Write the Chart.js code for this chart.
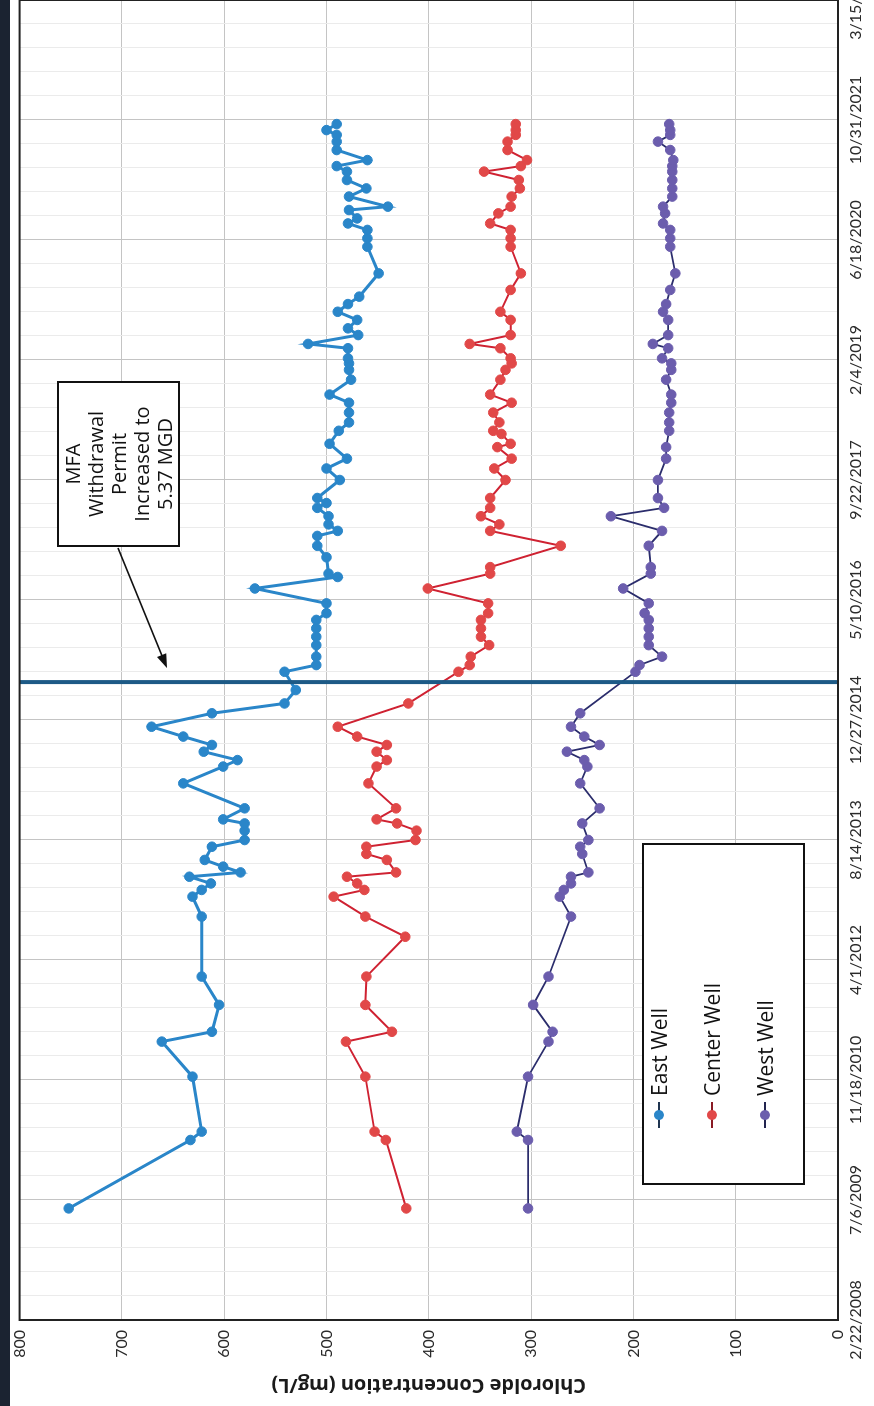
<!DOCTYPE html>
<html><head><meta charset="utf-8">
<script src="https://cdn.jsdelivr.net/npm/chart.js@4.4.1/dist/chart.umd.min.js"></script>
<style>
html,body{margin:0;padding:0;background:#fff;}
#page{position:relative;width:874px;height:1406px;overflow:hidden;background:#fff;}
#rot{position:absolute;left:0;top:0;width:1500px;height:874px;transform-origin:0 0;transform:translate(0,1406px) rotate(-90deg);background:#fff;}
#strip{position:absolute;left:0;top:0;width:1500px;height:10px;background:#1b2331;z-index:3;}
#c{position:absolute;left:0;top:0;}
#note{position:absolute;left:859px;top:57px;width:162px;height:117px;padding-top:2px;border:2px solid #111;background:#fff;font-family:"Open Sans",sans-serif;font-size:20px;line-height:23px;text-align:center;color:#111;}
#legend{position:absolute;left:221px;top:642px;width:338px;height:159px;border:2px solid #111;background:#fff;}
.row{position:absolute;left:55px;height:24px;font-family:"Open Sans",sans-serif;font-size:21px;line-height:24px;color:#111;white-space:nowrap;}
.row .ln{position:absolute;left:0;top:11px;width:26px;height:2px;}
.row .dot{position:absolute;left:8px;top:7px;width:10px;height:10px;border-radius:50%;}
.row .tx{position:absolute;left:32px;top:0;}
</style></head>
<body>
<div id="page">
  <div id="rot">
    <canvas id="c" width="1500" height="874"></canvas>
    <div id="strip"></div>
    <div id="note">MFA<br>Withdrawal<br>Permit<br>Increased to<br>5.37 MGD</div>
    <div id="legend"></div>
  </div>
</div>
<script>
// ---- data ----
const sampleDates = [
"2009-06-01","2010-03-13","2010-04-17","2010-12-02","2011-04-27","2011-06-07","2011-09-27","2012-01-23","2012-07-07","2012-09-29",
"2012-12-21","2013-01-18","2013-02-14","2013-03-14","2013-04-01","2013-04-25","2013-05-23","2013-06-17","2013-07-17","2013-08-14",
"2013-09-22","2013-10-22","2013-11-08","2013-12-24","2014-04-07","2014-06-16","2014-07-13","2014-08-17","2014-09-14","2014-10-19",
"2014-11-29","2015-01-24","2015-03-06","2015-05-01","2015-07-16","2015-08-13","2015-09-17","2015-11-04","2015-12-09","2016-01-13",
"2016-02-17","2016-03-16","2016-04-26","2016-06-27","2016-08-14","2016-08-28","2016-09-24","2016-11-04","2016-12-22","2017-02-01",
"2017-02-22","2017-03-21","2017-04-24","2017-05-29","2017-06-18","2017-07-09","2017-09-22","2017-11-09","2017-12-20","2018-02-06",
"2018-02-20","2018-04-02","2018-04-15","2018-05-20","2018-06-30","2018-08-10","2018-09-13","2018-11-14","2018-12-25","2019-01-21",
"2019-02-11","2019-03-25","2019-04-12","2019-05-19","2019-06-16","2019-07-21","2019-08-24","2019-09-25","2019-10-26","2019-11-23",
"2020-01-31","2020-05-21","2020-06-25","2020-07-30","2020-08-26","2020-09-16","2020-10-07","2020-10-21","2020-11-04","2020-12-16",
"2021-01-19","2021-02-23","2021-03-30","2021-04-22","2021-05-17","2021-06-28","2021-08-02","2021-08-30","2021-09-19","2021-10-14"];

const eastWell = [
752,633,622,631,661,612,605,622,null,622,
631,622,613,634,584,601,619,null,612,580,
580,580,601,580,640,601,587,620,612,640,
671,612,541,530,541,510,510,510,510,510,
510,500,500,570,489,498,null,500,509,509,
489,498,498,509,500,509,487,500,480,null,
497,null,488,478,478,478,497,476,478,478,
479,479,518,469,479,470,489,479,468,null,
449,460,460,460,479,470,null,478,440,478,
461,480,480,490,460,490,490,490,500,490];

const centerWell = [
422,442,453,462,481,436,462,461,423,462,
493,463,470,480,432,null,441,461,461,413,
412,431,451,432,459,451,441,451,441,470,
489,null,420,null,371,360,359,341,349,349,
349,342,342,401,null,340,340,null,271,null,
340,331,349,340,null,340,325,336,319,333,
320,329,337,331,337,319,340,330,325,319,
320,330,360,320,null,320,330,null,null,320,
310,320,320,320,340,null,332,null,320,319,
311,312,346,310,304,323,323,315,315,315];

const westWell = [
303,303,314,303,283,279,298,283,null,261,
272,268,261,261,244,null,null,250,252,244,
null,250,null,233,252,245,248,265,233,248,
261,252,null,null,198,194,172,185,185,185,
185,189,185,210,null,183,183,null,185,null,
172,null,222,170,null,176,176,null,168,168,
null,null,165,165,165,163,163,168,163,163,
172,166,181,166,null,166,171,168,null,164,
159,164,164,164,171,null,169,null,171,162,
162,162,162,162,161,164,176,164,164,165];

const seriesNames = ["East Well", "Center Well", "West Well"];
const permitDate = "2015-06-03";
const axisStartDate = "2008-02-22";
const axisEndDate = "2023-03-15";
const concentrationTicks = [0,100,200,300,400,500,600,700,800];

// ---- helpers ----
const toSerial = s => { const [y,m,d] = s.split("-").map(Number); return Date.UTC(y,m-1,d)/86400000 + 25569; };
const fmtSerial = v => { const dt = new Date((v-25569)*86400000); return (dt.getUTCMonth()+1)+"/"+dt.getUTCDate()+"/"+dt.getUTCFullYear(); };
const xs = sampleDates.map(toSerial);
const pts = vals => vals.map((v,i)=>({x:xs[i], y:v}));

const styles = [
  {line:"#2a86c9", fill:"#2a86c9", legendLine:"#1f3550", width:3},
  {line:"#cf2232", fill:"#e14848", legendLine:"#8a1b24", width:2},
  {line:"#2b2d6c", fill:"#6b5dad", legendLine:"#22244f", width:1.8}
];
const allSeries = [eastWell, centerWell, westWell];

const xMin = toSerial(axisStartDate), xMax = toSerial(axisEndDate);
const mfaX = toSerial(permitDate);

const overlay = {
  id:"overlay",
  beforeDatasetsDraw(chart){
    const {ctx, chartArea:a, scales:{x}} = chart;
    ctx.save();
    ctx.strokeStyle = "#ebebeb"; ctx.lineWidth = 1;
    for(let v = xMin; v <= xMax; v += 100){
      if ((v - xMin) % 500 === 0) continue;
      const px = Math.round(x.getPixelForValue(v)) + 0.5;
      ctx.beginPath(); ctx.moveTo(px, a.top); ctx.lineTo(px, a.bottom); ctx.stroke();
    }
    ctx.restore();
  },
  afterDatasetsDraw(chart){
    const {ctx, chartArea:a, scales:{x}} = chart;
    const mx = x.getPixelForValue(mfaX);
    ctx.save();
    ctx.strokeStyle = "#1d5a86"; ctx.lineWidth = 4;
    ctx.beginPath(); ctx.moveTo(mx, a.top); ctx.lineTo(mx, a.bottom); ctx.stroke();
    // arrow from note box to the permit line
    const sx = 858, sy = 118, ex = mx + 14, ey = 167;
    ctx.strokeStyle = "#111"; ctx.fillStyle = "#111"; ctx.lineWidth = 1.6;
    const ang = Math.atan2(ey - sy, ex - sx);
    ctx.beginPath(); ctx.moveTo(sx, sy); ctx.lineTo(ex - 10*Math.cos(ang), ey - 10*Math.sin(ang)); ctx.stroke();
    ctx.beginPath();
    ctx.moveTo(ex, ey);
    ctx.lineTo(ex - 14*Math.cos(ang) + 5*Math.sin(ang), ey - 14*Math.sin(ang) - 5*Math.cos(ang));
    ctx.lineTo(ex - 14*Math.cos(ang) - 5*Math.sin(ang), ey - 14*Math.sin(ang) + 5*Math.cos(ang));
    ctx.closePath(); ctx.fill();
    ctx.restore();
  },
  afterDraw(chart){
    const {ctx, chartArea:a} = chart;
    ctx.save();
    ctx.strokeStyle = "#222"; ctx.lineWidth = 2;
    ctx.strokeRect(a.left, a.top, a.right - a.left, a.bottom - a.top);
    ctx.restore();
  }
};

new Chart(document.getElementById("c"), {
  type: "line",
  data: {
    datasets: allSeries.map((vals, i) => ({
      label: seriesNames[i],
      data: pts(vals),
      borderColor: styles[i].line,
      borderWidth: styles[i].width,
      backgroundColor: styles[i].fill,
      pointBackgroundColor: styles[i].fill,
      pointBorderColor: styles[i].fill,
      pointRadius: 4.8,
      pointBorderWidth: 1,
      tension: 0,
      spanGaps: true
    }))
  },
  options: {
    responsive: false,
    animation: false,
    layout: { padding: { top: 16, right: 94, bottom: 0, left: 0 } },
    plugins: { legend: { display: false }, tooltip: { enabled: false } },
    scales: {
      x: {
        type: "linear", min: xMin, max: xMax, position: "bottom",
        ticks: { stepSize: 500, autoSkip: false, maxRotation: 0, minRotation: 0, padding: 8,
                 font: { family: "Lato", size: 16 }, color: "#2a2a2a", callback: v => fmtSerial(v) },
        grid: { color: "#c4c4c4", lineWidth: 1, drawTicks: false },
        border: { display: false },
        afterFit(s){ s.height = 36; }
      },
      y: {
        min: 0, max: 800,
        afterBuildTicks(s){ s.ticks = concentrationTicks.map(v => ({value: v})); },
        ticks: { padding: 10, font: { family: "Lato", size: 16 }, color: "#2a2a2a" },
        grid: { color: "#c4c4c4", lineWidth: 1, drawTicks: false },
        border: { display: false },
        title: { display: true, text: "Chlorolde Concentration (mg/L)",
                 font: { family: "Open Sans", size: 20, weight: "700" }, color: "#1a1a1a",
                 padding: { top: 9, bottom: 0 } },
        afterFit(s){ s.width = 86; }
      }
    }
  },
  plugins: [overlay]
});

// legend (HTML text)
const legend = document.getElementById("legend");
const rowCenters = [15, 68, 121];
seriesNames.forEach((name, i) => {
  const r = document.createElement("div");
  r.className = "row";
  r.style.top = (rowCenters[i] - 12) + "px";
  r.innerHTML = '<div class="ln" style="background:'+styles[i].legendLine+'"></div><div class="dot" style="background:'+styles[i].fill+'"></div><div class="tx">'+name+'</div>';
  legend.appendChild(r);
});
</script>
</body></html>
